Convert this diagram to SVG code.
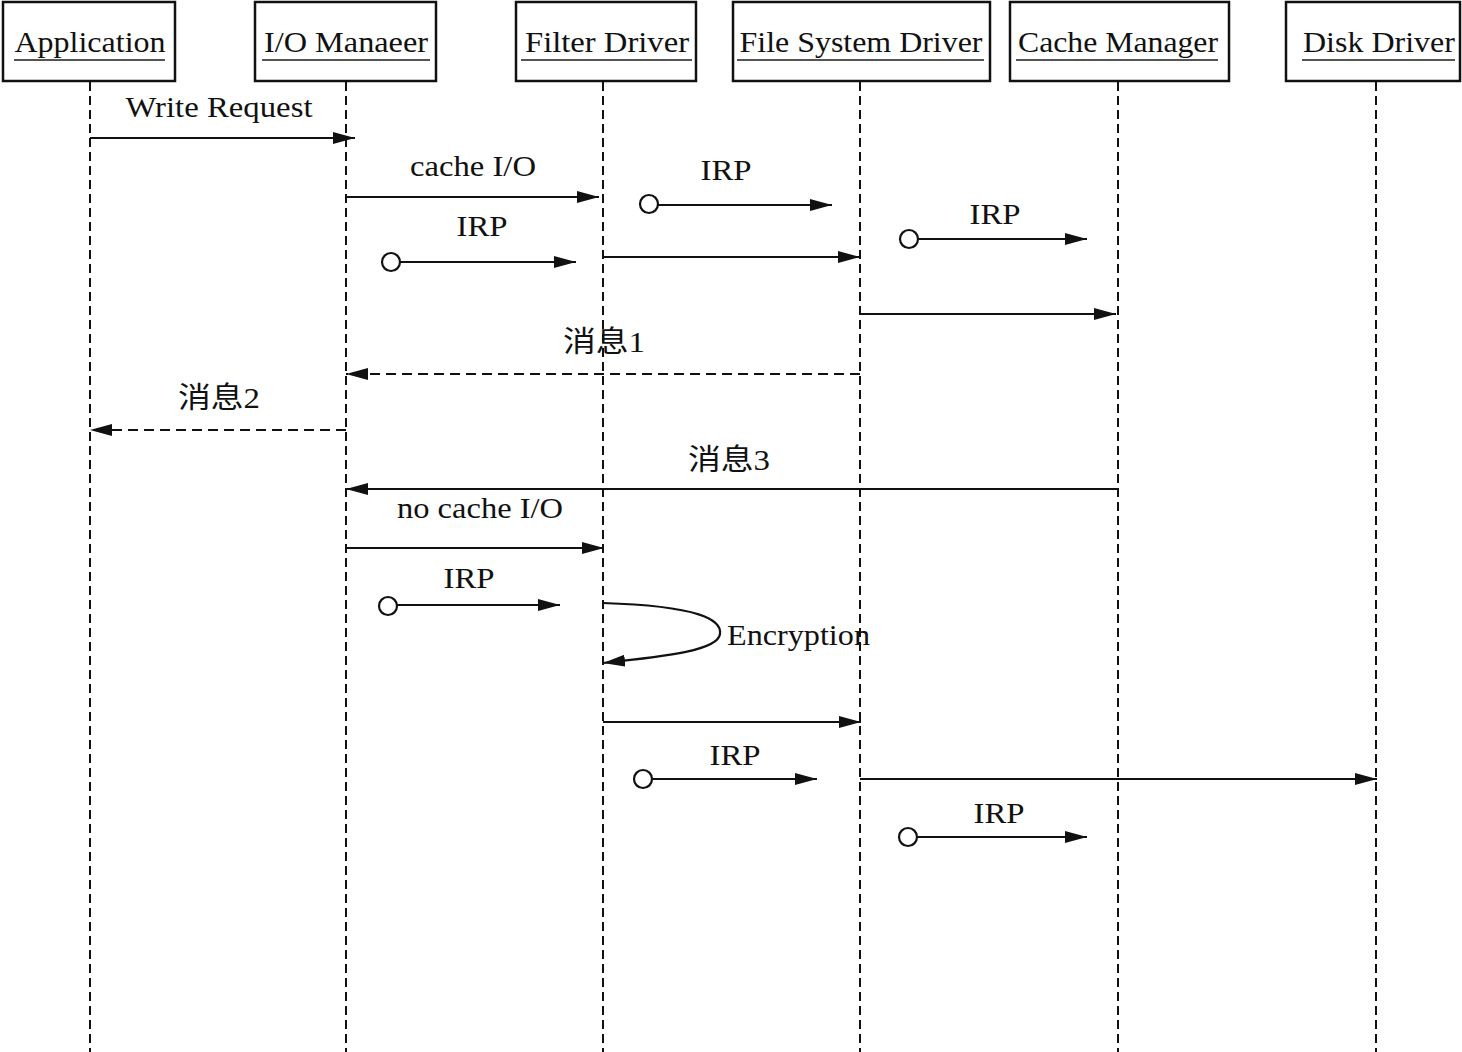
<svg xmlns="http://www.w3.org/2000/svg" width="1462" height="1052" viewBox="0 0 1462 1052">
<style>
.box{fill:#fff;stroke:#111;stroke-width:2.5}
.ttl{font-family:"Liberation Serif",serif;font-size:30px;fill:#111;text-anchor:middle}
.ul{stroke:#555;stroke-width:2}
.life{stroke:#111;stroke-width:2;stroke-dasharray:9,5;fill:none}
.msg{stroke:#111;stroke-width:2.2;fill:none}
.dash{stroke-dasharray:10,6}
.lbl{font-family:"Liberation Serif","Noto Sans CJK SC",serif;font-size:29px;fill:#111;text-anchor:middle}
.dot{fill:#fff;stroke:#111;stroke-width:2.2}
</style>
<defs>
<marker id="ah" viewBox="0 0 22 12" refX="22" refY="6" markerWidth="22" markerHeight="12" markerUnits="userSpaceOnUse" orient="auto">
<path d="M0,0 L22,6 L0,12 Z" fill="#111"/>
</marker>
</defs>
<rect width="1462" height="1052" fill="#fff"/>
<g id="lifelines">
<line class="life" x1="90" y1="82" x2="90" y2="1052"/>
<line class="life" x1="346" y1="82" x2="346" y2="1052"/>
<line class="life" x1="603" y1="82" x2="603" y2="1052"/>
<line class="life" x1="860" y1="82" x2="860" y2="1052"/>
<line class="life" x1="1118" y1="82" x2="1118" y2="1052"/>
<line class="life" x1="1376" y1="82" x2="1376" y2="1052"/>
</g>
<g id="n-app"><rect class="box" x="3" y="2" width="172" height="79"/><text class="ttl" x="90" y="52" textLength="151" lengthAdjust="spacingAndGlyphs">Application</text><line class="ul" x1="14" y1="60" x2="165" y2="60"/></g>
<g id="n-io"><rect class="box" x="255" y="2" width="181" height="79"/><text class="ttl" x="346" y="52" textLength="164" lengthAdjust="spacingAndGlyphs">I/O Manaeer</text><line class="ul" x1="262" y1="60" x2="430" y2="60"/></g>
<g id="n-filter"><rect class="box" x="516" y="2" width="180" height="79"/><text class="ttl" x="607" y="52" textLength="164" lengthAdjust="spacingAndGlyphs">Filter Driver</text><line class="ul" x1="521" y1="60" x2="692" y2="60"/></g>
<g id="n-fsd"><rect class="box" x="733" y="2" width="257" height="79"/><text class="ttl" x="861" y="52" textLength="243" lengthAdjust="spacingAndGlyphs">File System Driver</text><line class="ul" x1="737" y1="60" x2="984" y2="60"/></g>
<g id="n-cache"><rect class="box" x="1010" y="2" width="219" height="79"/><text class="ttl" x="1118" y="52" textLength="200" lengthAdjust="spacingAndGlyphs">Cache Manager</text><line class="ul" x1="1016" y1="60" x2="1218" y2="60"/></g>
<g id="n-disk"><rect class="box" x="1286" y="2" width="174" height="79"/><text class="ttl" x="1379" y="52" textLength="152" lengthAdjust="spacingAndGlyphs">Disk Driver</text><line class="ul" x1="1302" y1="60" x2="1455" y2="60"/></g>
<g id="connectors">
<line class="msg" x1="90" y1="138" x2="355" y2="138" marker-end="url(#ah)"/>
<line class="msg" x1="346" y1="197" x2="599" y2="197" marker-end="url(#ah)"/>
<circle class="dot" cx="391" cy="262" r="9"/><line class="msg" x1="400" y1="262" x2="576" y2="262" marker-end="url(#ah)"/>
<circle class="dot" cx="649" cy="204" r="9"/><line class="msg" x1="658" y1="205" x2="832" y2="205" marker-end="url(#ah)"/>
<line class="msg" x1="603" y1="257" x2="860" y2="257" marker-end="url(#ah)"/>
<circle class="dot" cx="909" cy="239" r="9"/><line class="msg" x1="918" y1="239" x2="1087" y2="239" marker-end="url(#ah)"/>
<line class="msg" x1="860" y1="314" x2="1116" y2="314" marker-end="url(#ah)"/>
<line class="msg dash" x1="860" y1="374" x2="346" y2="374" marker-end="url(#ah)"/>
<line class="msg dash" x1="346" y1="430" x2="90" y2="430" marker-end="url(#ah)"/>
<line class="msg" x1="1118" y1="489" x2="346" y2="489" marker-end="url(#ah)"/>
<line class="msg" x1="346" y1="548" x2="604" y2="548" marker-end="url(#ah)"/>
<circle class="dot" cx="388" cy="606" r="9"/><line class="msg" x1="397" y1="605" x2="560" y2="605" marker-end="url(#ah)"/>
<path class="msg" d="M603,603 C700,606 722,620 720,634 C718,650 670,656 603,663" marker-end="url(#ah)"/>
<line class="msg" x1="603" y1="722" x2="861" y2="722" marker-end="url(#ah)"/>
<circle class="dot" cx="643" cy="779" r="9"/><line class="msg" x1="652" y1="779" x2="817" y2="779" marker-end="url(#ah)"/>
<line class="msg" x1="860" y1="779" x2="1377" y2="779" marker-end="url(#ah)"/>
<circle class="dot" cx="908" cy="837" r="9"/><line class="msg" x1="917" y1="837" x2="1087" y2="837" marker-end="url(#ah)"/>
</g>
<g id="labels">
<text class="lbl" x="219" y="117" textLength="187" lengthAdjust="spacingAndGlyphs">Write Request</text>
<text class="lbl" x="473" y="176" textLength="126" lengthAdjust="spacingAndGlyphs">cache I/O</text>
<text class="lbl" x="482" y="236" textLength="51" lengthAdjust="spacingAndGlyphs">IRP</text>
<text class="lbl" x="726" y="180" textLength="51" lengthAdjust="spacingAndGlyphs">IRP</text>
<text class="lbl" x="995" y="224" textLength="51" lengthAdjust="spacingAndGlyphs">IRP</text>
<text class="lbl" x="604" y="352" textLength="82" lengthAdjust="spacingAndGlyphs">消息1</text>
<text class="lbl" x="219" y="408" textLength="82" lengthAdjust="spacingAndGlyphs">消息2</text>
<text class="lbl" x="729" y="470" textLength="82" lengthAdjust="spacingAndGlyphs">消息3</text>
<text class="lbl" x="480" y="518" textLength="166" lengthAdjust="spacingAndGlyphs">no cache I/O</text>
<text class="lbl" x="469" y="588" textLength="51" lengthAdjust="spacingAndGlyphs">IRP</text>
<text class="lbl" x="727" y="645" style="text-anchor:start" textLength="143" lengthAdjust="spacingAndGlyphs">Encryption</text>
<text class="lbl" x="735" y="765" textLength="51" lengthAdjust="spacingAndGlyphs">IRP</text>
<text class="lbl" x="999" y="823" textLength="51" lengthAdjust="spacingAndGlyphs">IRP</text>
</g>
</svg>
